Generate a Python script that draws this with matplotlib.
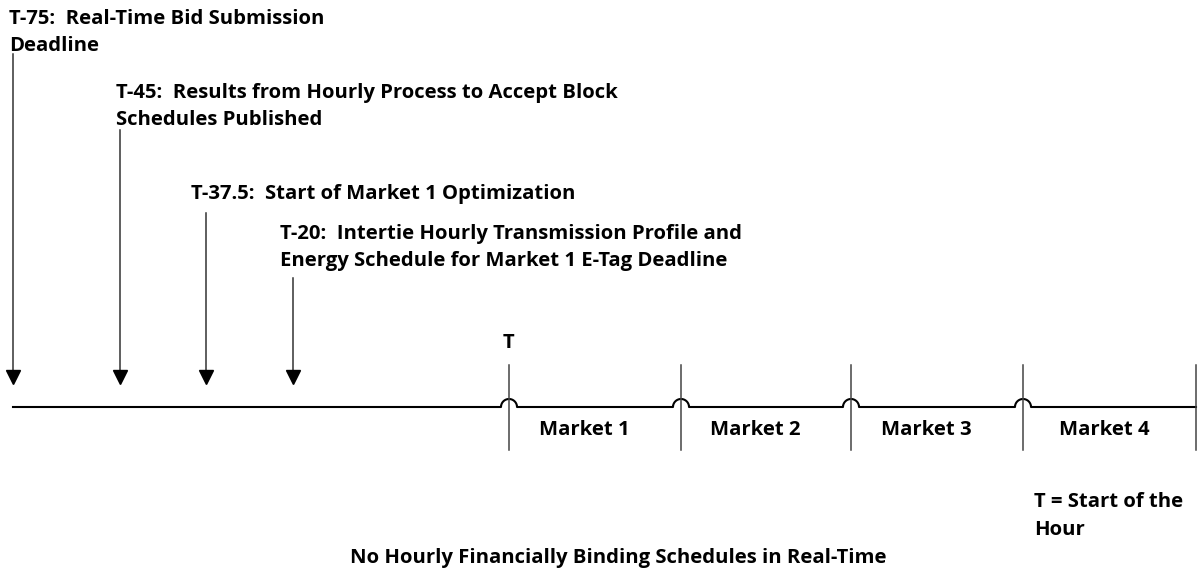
import numpy as np
import matplotlib
matplotlib.use("Agg")
import matplotlib.pyplot as plt

# timeline events (label lines)
event_labels = [
    ["T-75:  Real-Time Bid Submission", "Deadline"],
    ["T-45:  Results from Hourly Process to Accept Block", "Schedules Published"],
    ["T-37.5:  Start of Market 1 Optimization"],
    ["T-20:  Intertie Hourly Transmission Profile and",
     "Energy Schedule for Market 1 E-Tag Deadline"],
]
markets = ["Market 1", "Market 2", "Market 3", "Market 4"]
start_label = "T"
note_lines = ["T = Start of the", "Hour"]
footer = "No Hourly Financially Binding Schedules in Real-Time"

# layout (pixel space of the drawing)
W, H = 1198, 573
line_y = 407
event_x = [13, 120, 206, 293]
arrow_top = [54, 130, 213, 278]
arrow_tip = 384
label_x = [9, 116, 191, 280]
label_base = [24, 98, 199, 239]
line_gap = 27
bounds = [509, 681, 851, 1023, 1196]
market_cx = [584, 755, 926, 1104]
bump_r = 8

plt.rcParams['font.family'] = ['Open Sans', 'DejaVu Sans']
fig = plt.figure(figsize=(W / 100, H / 100), dpi=100)
ax = fig.add_axes([0, 0, 1, 1])
ax.set_xlim(0, W)
ax.set_ylim(H, 0)
ax.axis('off')

fs = 14.6

# event arrows and labels
for i, lines in enumerate(event_labels):
    x = event_x[i]
    ax.plot([x, x], [arrow_top[i], arrow_tip - 10], color='#333333', lw=1.1)
    ax.plot(x, arrow_tip - 7, marker='v', ms=10, color='black', mec='black')
    for j, s in enumerate(lines):
        ax.text(label_x[i], label_base[i] + j * line_gap, s, fontsize=fs,
                fontweight='bold', va='baseline', ha='left')

# horizontal timeline with hops over the market boundaries
xs = [event_x[0]]
ys = [line_y]
t = np.linspace(np.pi, 0, 30)
for b in bounds[:-1]:
    xs += list(b + bump_r * np.cos(t))
    ys += list(line_y - bump_r * np.sin(t))
xs.append(bounds[-1])
ys.append(line_y)
ax.plot(xs, ys, color='black', lw=1.5)

# market boundaries
for b in bounds:
    ax.plot([b, b], [365, 450], color='#444444', lw=1.1)

for k, m in enumerate(markets):
    ax.text(market_cx[k], 435, m, fontsize=fs, fontweight='bold',
            ha='center', va='baseline')

ax.text(bounds[0] - 1, 348, start_label, fontsize=fs, fontweight='bold',
        ha='center', va='baseline')

for j, s in enumerate(note_lines):
    ax.text(1034, 507 + j * 28, s, fontsize=fs, fontweight='bold',
            ha='left', va='baseline')

ax.text(350, 563, footer, fontsize=fs, fontweight='bold', ha='left', va='baseline')

fig.savefig("out.png", dpi=100)
